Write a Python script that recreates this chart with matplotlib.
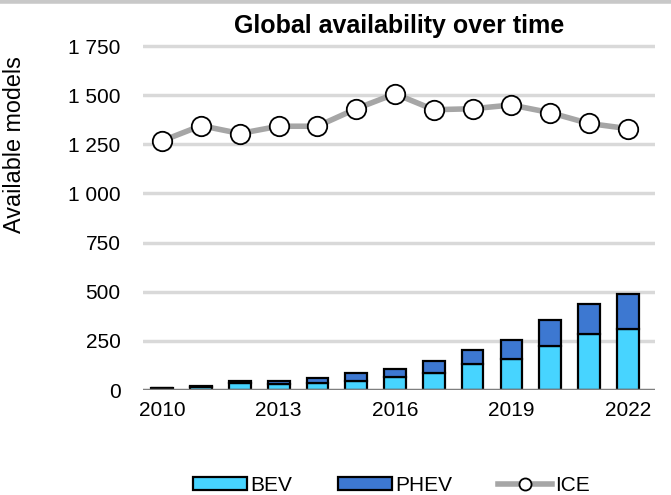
import matplotlib.pyplot as plt
from matplotlib.ticker import FuncFormatter

plt.rcParams['font.family'] = ['Liberation Sans', 'DejaVu Sans']

years = [2010, 2011, 2012, 2013, 2014, 2015, 2016, 2017, 2018, 2019, 2020, 2021, 2022]
bev = [8, 17, 37, 30, 37, 45, 65, 87, 133, 160, 222, 283, 310]
phev = [5, 6, 11, 18, 25, 40, 42, 63, 72, 97, 135, 157, 180]
ice = [1268, 1345, 1305, 1342, 1342, 1431, 1507, 1426, 1431, 1450, 1411, 1356, 1330]

fig = plt.figure(figsize=(6.71, 4.95), dpi=100)
ax = fig.add_axes([0.213, 0.212, 0.763, 0.699])

# light grid first, then stacked bars and the ICE line on top
for y in range(250, 1751, 250):
    ax.axhline(y, color='#d9d9d9', lw=2.5, zorder=0, solid_capstyle='round')
ax.axhline(0, color='#7f7f7f', lw=2.5, zorder=3)

b1 = ax.bar(years, bev, width=0.56, color='#47d4ff', edgecolor='black', lw=1.6, label='BEV', zorder=2)
b2 = ax.bar(years, phev, bottom=bev, width=0.56, color='#3d78d1', edgecolor='black', lw=1.6,
            label='PHEV', zorder=2)
ln, = ax.plot(years, ice, color='#a6a6a6', lw=4, marker='o', ms=14, mfc='white', mec='black',
              mew=1.3, label='ICE', zorder=4)

ax.set_xlim(2009.5, 2022.7)
ax.set_ylim(0, 1760)
ax.set_yticks(range(0, 1751, 250))
ax.yaxis.set_major_formatter(FuncFormatter(lambda v, _: f'{int(v):,}'.replace(',', ' ')))
ax.set_xticks([2010, 2013, 2016, 2019, 2022])
ax.tick_params(length=0, labelsize=15)
ax.tick_params(axis='y', pad=16)
ax.tick_params(axis='x', pad=8)
for s in ax.spines.values():
    s.set_visible(False)

ax.set_ylabel('Available models', fontsize=16.8)
ax.yaxis.set_label_coords(-0.228, 0.71)
ax.set_title('Global availability over time', fontsize=18, fontweight='bold', pad=8)

fig.legend([b1, b2, ln], ['BEV', 'PHEV', 'ICE'], loc='lower center',
           bbox_to_anchor=(0.583, -0.038), ncol=3, frameon=False, fontsize=15,
           handlelength=2.6, handleheight=0.55, handletextpad=0.15, columnspacing=2.2,
           markerscale=0.62)

# thin gray band across the top edge
fig.add_artist(plt.Line2D([0, 1], [0.997, 0.997], color='#c8c8c8', lw=4))

fig.savefig('out.png', dpi=100)
